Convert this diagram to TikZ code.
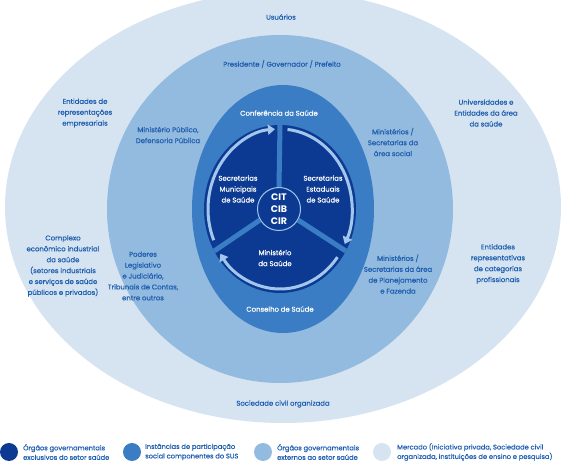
\documentclass[tikz,border=0pt]{standalone}
\usepackage{fontspec}
\setmainfont{Poppins}
\newfontfamily\lblfont{Poppins}[FakeBold=0.5]
\usetikzlibrary{arrows.meta}
\definecolor{cA}{HTML}{D6E4F1}
\definecolor{cB}{HTML}{93BADF}
\definecolor{cC}{HTML}{3A7DC4}
\definecolor{cD}{HTML}{0C3A92}
\definecolor{ringc}{HTML}{A3C6EC}
\definecolor{txt}{HTML}{1F5FB0}
\begin{document}
\begin{tikzpicture}[x=1pt,y=1pt,
  lbl/.style={align=center, text=txt, font=\lblfont\fontsize{6.9}{10.9}\selectfont, inner sep=0pt},
  wlbl/.style={lbl, text=white},
  leglbl/.style={align=left, anchor=west, text=txt, font=\lblfont\fontsize{6.7}{9.5}\selectfont, inner sep=0pt},
  legdot/.style={circle, minimum size=18pt, inner sep=0pt},
  ringarrow/.style={draw=ringc, line width=3pt, -{Triangle[width=10pt,length=7pt]}},
  spoke/.style={draw=cC, line width=5pt},
]
\useasboundingbox (0,0) rectangle (566,474);
\begin{scope}
\clip (0,0) rectangle (566,474);
\fill[cA] (283,267) ellipse [x radius=278, y radius=216];
\end{scope}
\fill[cB] (280,265) ellipse [x radius=173, y radius=174];
\fill[cC] (283,265) ellipse [x radius=91, y radius=124];
\fill[cD] (280,265) ellipse [x radius=76, y radius=84];
\coordinate (c) at (280,265);
% hub
\node[circle, draw=ringc, line width=1pt, fill=cD, minimum size=43pt, inner sep=0pt] (hub) at (279,265) {};
\path (c) ++(90:76 and 84) coordinate (s1);
\path (c) ++(210:76 and 84) coordinate (s2);
\path (c) ++(330:76 and 84) coordinate (s3);
\draw[spoke] (hub.90) -- (s1);
\draw[spoke] (hub.210) -- (s2);
\draw[spoke] (hub.330) -- (s3);
% ring arrows (clockwise)
\draw[ringarrow] (c) ++(203:72 and 80) arc[start angle=203, end angle=94, x radius=72, y radius=80];
\draw[ringarrow] (c) ++(84:72 and 80) arc[start angle=84, end angle=-26, x radius=72, y radius=80];
\draw[ringarrow] (c) ++(-37:72 and 80) arc[start angle=-37, end angle=-146, x radius=72, y radius=80];
\node[font=\fontsize{9.5}{12}\selectfont\bfseries, text=white, align=center] (cit) at (hub) {CIT\\CIB\\CIR};
% inner labels
\node[wlbl] (smun) at (238,285) {Secretarias\\Municipais\\de Saúde};
\node[wlbl] (sest) at (323,285) {Secretarias\\Estaduais\\de Saúde};
\node[wlbl] (min) at (275,216) {Ministério\\da Saúde};
\node[wlbl] (conf) at (279,361) {Conferência da Saúde};
\node[wlbl] (cons) at (280,165) {Conselho de Saúde};
% second ring labels
\node[lbl] (pres) at (282,410) {Presidente / Governador / Prefeito};
\node[lbl] (mp) at (168,339) {Ministério Público,\\Defensoria Pública};
\node[lbl] (mas) at (393,332) {Ministérios /\\Secretarias da\\área social};
\node[lbl] (pod) at (143,198) {Poderes\\Legislativo\\e Judiciário,\\Tribunais de Contas,\\entre outros};
\node[lbl] (mpf) at (398,200) {Ministérios /\\Secretarias da área\\de Planejamento\\e Fazenda};
% outer ring labels
\node[lbl] (usu) at (281,457) {Usuários};
\node[lbl] (ent) at (85,361) {Entidades de\\representações\\empresariais};
\node[lbl] (uni) at (486,361) {Universidades e\\Entidades da área\\da saúde};
\node[lbl] (comp) at (63,208) {Complexo\\econômico industrial\\da saúde\\(setores industriais\\e serviços de saúde\\públicos e privados)};
\node[lbl] (entp) at (498,210) {Entidades\\representativas\\de categorias\\profissionais};
\node[lbl] (soc) at (283,70) {Sociedade civil organizada};
% legend
\node[legdot, fill=cD] (l1) at (9,22) {};
\node[leglbl] (t1) at (23,22) {Órgãos governamentais\\exclusivos do setor saúde};
\node[legdot, fill=cC] (l2) at (132,22) {};
\node[leglbl] (t2) at (145,22) {Instâncias de participação\\social componentes do SUS};
\node[legdot, fill=cB] (l3) at (263,22) {};
\node[leglbl] (t3) at (277,22) {Órgãos governamentais\\externos ao setor saúde};
\node[legdot, fill=cA] (l4) at (382,22) {};
\node[leglbl] (t4) at (397,22) {Mercado (Iniciativa privada, Sociedade civil\\organizada, instituições de ensino e pesquisa)};
\end{tikzpicture}
\end{document}
